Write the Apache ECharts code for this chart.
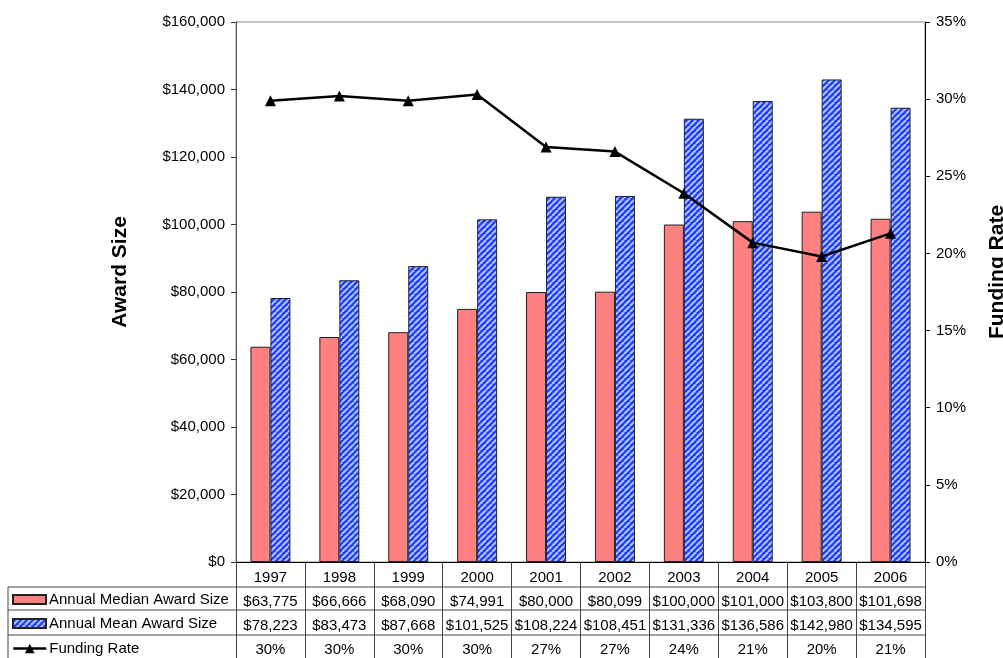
<!DOCTYPE html>
<html>
<head>
<meta charset="utf-8">
<script src="https://cdn.jsdelivr.net/npm/echarts@6/dist/echarts.min.js"></script>
<style>
  html, body { margin: 0; padding: 0; background: #fff; }
  #chart { width: 1003px; height: 658px; }
</style>
</head>
<body>
<div id="chart"></div>
<script>
var years = ['1997', '1998', '1999', '2000', '2001', '2002', '2003', '2004', '2005', '2006']
var medianAward = [63775, 66666, 68090, 74991, 80000, 80099, 100000, 101000, 103800, 101698]
var meanAward = [78223, 83473, 87668, 101525, 108224, 108451, 131336, 136586, 142980, 134595]
// table shows rounded values
var fundingRate = [29.9, 30.2, 29.9, 30.3, 26.9, 26.6, 23.9, 20.7, 19.8, 21.3]
var fundingRateLabels = ['30%', '30%', '30%', '30%', '27%', '27%', '24%', '21%', '20%', '21%']

var FONT = '"Liberation Sans", Arial, sans-serif'

function money(v) {
  return '$' + v.toLocaleString('en-US')
}

// blue diagonal hatch
function hatch() {
  var c = document.createElement('canvas')
  c.width = 6
  c.height = 6
  var ctx = c.getContext('2d')
  ctx.fillStyle = '#2638ff'
  ctx.fillRect(0, 0, 6, 6)
  ctx.strokeStyle = '#a8c8ff'
  ctx.lineWidth = 2
  for (var k = -6; k <= 6; k += 6) {
    ctx.beginPath()
    ctx.moveTo(k, 6)
    ctx.lineTo(k + 6, 0)
    ctx.stroke()
  }
  return c
}

var chart = echarts.init(document.getElementById('chart'))

var hLine = function (y, x1, x2) {
  return { type: 'line', shape: { x1: x1, y1: y, x2: x2, y2: y }, style: { stroke: '#444', lineWidth: 1 } }
}

var legendItem = function (item, top, h) {
  return {
    orient: 'vertical',
    left: 12,
    top: top,
    padding: 0,
    itemWidth: 33,
    itemHeight: h,
    itemGap: 0,
    lineStyle: { width: 2.5 },
    textStyle: { fontSize: 15, color: '#000', fontFamily: FONT, padding: [0, 0, 0, -2] },
    data: [item]
  }
}

var option = {
  animation: false,
  textStyle: { fontFamily: FONT },
  grid: {
    left: 236, right: 78, top: 22, bottom: 96,
    outerBoundsMode: 'none',
    show: true, borderColor: '#888', borderWidth: 1
  },
  legend: [
    legendItem({ name: 'Annual Median Award Size', icon: 'rect' }, 592, 9),
    legendItem({ name: 'Annual Mean Award Size', icon: 'rect' }, 616, 9),
    legendItem({ name: 'Funding Rate' }, 641, 12)
  ],
  xAxis: {
    type: 'category',
    data: years,
    axisLine: { lineStyle: { color: '#000' } },
    axisTick: { show: true, interval: 0, length: 96, lineStyle: { color: '#444' } },
    axisLabel: {
      interval: 0,
      margin: 4,
      fontSize: 15,
      color: '#000',
      lineHeight: 24,
      formatter: function (v, i) {
        return v + '\n' + money(medianAward[i]) + '\n' + money(meanAward[i]) + '\n' + fundingRateLabels[i]
      }
    }
  },
  yAxis: [
    {
      type: 'value',
      min: 0, max: 160000, interval: 20000,
      axisLine: { show: true, lineStyle: { color: '#555' } },
      axisTick: { show: true, length: 5, lineStyle: { color: '#333' } },
      splitLine: { show: false },
      axisLabel: { fontSize: 15, color: '#000', margin: 11, formatter: money }
    },
    {
      type: 'value',
      min: 0, max: 35, interval: 5,
      axisLine: { show: true, lineStyle: { color: '#000' } },
      axisTick: { show: true, length: 5, lineStyle: { color: '#000' } },
      splitLine: { show: false },
      axisLabel: { fontSize: 15, color: '#000', margin: 11, formatter: '{value}%' }
    }
  ],
  graphic: [
    {
      type: 'text', x: 120, y: 272, rotation: Math.PI / 2,
      style: { text: 'Award Size', font: 'bold 21px ' + FONT, fill: '#000', align: 'center', verticalAlign: 'middle' }
    },
    {
      type: 'text', x: 997, y: 272, rotation: Math.PI / 2,
      style: { text: 'Funding Rate', font: 'bold 21px ' + FONT, fill: '#000', align: 'center', verticalAlign: 'middle' }
    },
    hLine(587, 8, 925),
    hLine(610, 8, 925),
    hLine(635, 8, 925),
    { type: 'line', shape: { x1: 8, y1: 587, x2: 8, y2: 658 }, style: { stroke: '#444', lineWidth: 1 } }
  ],
  series: [
    {
      name: 'Annual Median Award Size',
      type: 'bar',
      data: medianAward,
      barWidth: '29%',
      barGap: '0%',
      itemStyle: { color: '#ff8080', borderColor: '#222', borderWidth: 1 }
    },
    {
      name: 'Annual Mean Award Size',
      type: 'bar',
      data: meanAward,
      barWidth: '29%',
      barGap: '0%',
      itemStyle: { color: { image: hatch(), repeat: 'repeat' }, borderColor: '#222', borderWidth: 1 }
    },
    {
      name: 'Funding Rate',
      type: 'line',
      yAxisIndex: 1,
      data: fundingRate,
      symbol: 'triangle',
      symbolSize: 11,
      lineStyle: { color: '#000', width: 2.5 },
      itemStyle: { color: '#000' }
    }
  ]
}

chart.setOption(option)
</script>
</body>
</html>
